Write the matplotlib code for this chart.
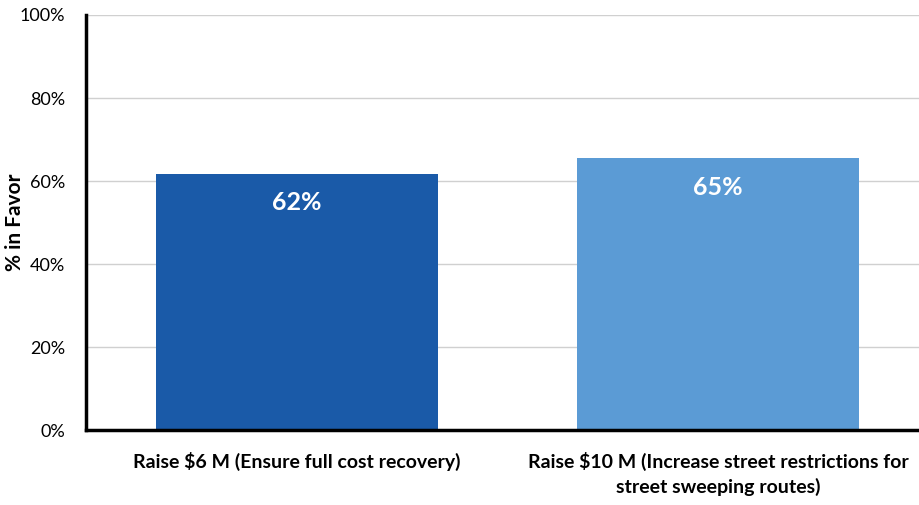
import matplotlib.pyplot as plt
from matplotlib.ticker import PercentFormatter

plt.rcParams['font.family'] = ['Lato', 'DejaVu Sans']

categories = ["Raise $6 M (Ensure full cost recovery)",
              "Raise $10 M (Increase street restrictions for\nstreet sweeping routes)"]
values = [61.7, 65.5]
labels = ["62%", "65%"]
colors = ["#1a5aa8", "#5b9bd5"]

fig = plt.figure(figsize=(9.19, 5.05), dpi=100)
ax = fig.add_axes([0.0936, 0.1485, 0.9173, 0.8218])

pos = range(len(categories))
bars = ax.bar(pos, values, width=0.67, color=colors, zorder=2)
for b, lab in zip(bars, labels):
    ax.text(b.get_x() + b.get_width() / 2, b.get_height() - 7, lab,
            ha='center', va='center', color='white', fontsize=18, fontweight='bold')

ax.set_xlim(-0.5, 1.5)
ax.set_ylim(0, 100)
ax.set_yticks(range(0, 101, 20))
ax.yaxis.set_major_formatter(PercentFormatter(decimals=0))
ax.set_xticks(list(pos))
ax.set_xticklabels(categories, fontsize=14, fontweight='bold', linespacing=1.45)
ax.tick_params(axis='both', length=0)
ax.tick_params(axis='x', pad=16)
ax.tick_params(axis='y', labelsize=13, pad=15)
ax.grid(axis='y', color='#d0d0d0', linewidth=1, zorder=0)
ax.set_ylabel("% in Favor", fontsize=15, fontweight='bold')
ax.yaxis.set_label_coords(-0.072, 0.5)

for s in ['top', 'right']:
    ax.spines[s].set_visible(False)
for s in ['left', 'bottom']:
    ax.spines[s].set_linewidth(2.5)
    ax.spines[s].set_color('black')

fig.savefig("out.png", dpi=100)
